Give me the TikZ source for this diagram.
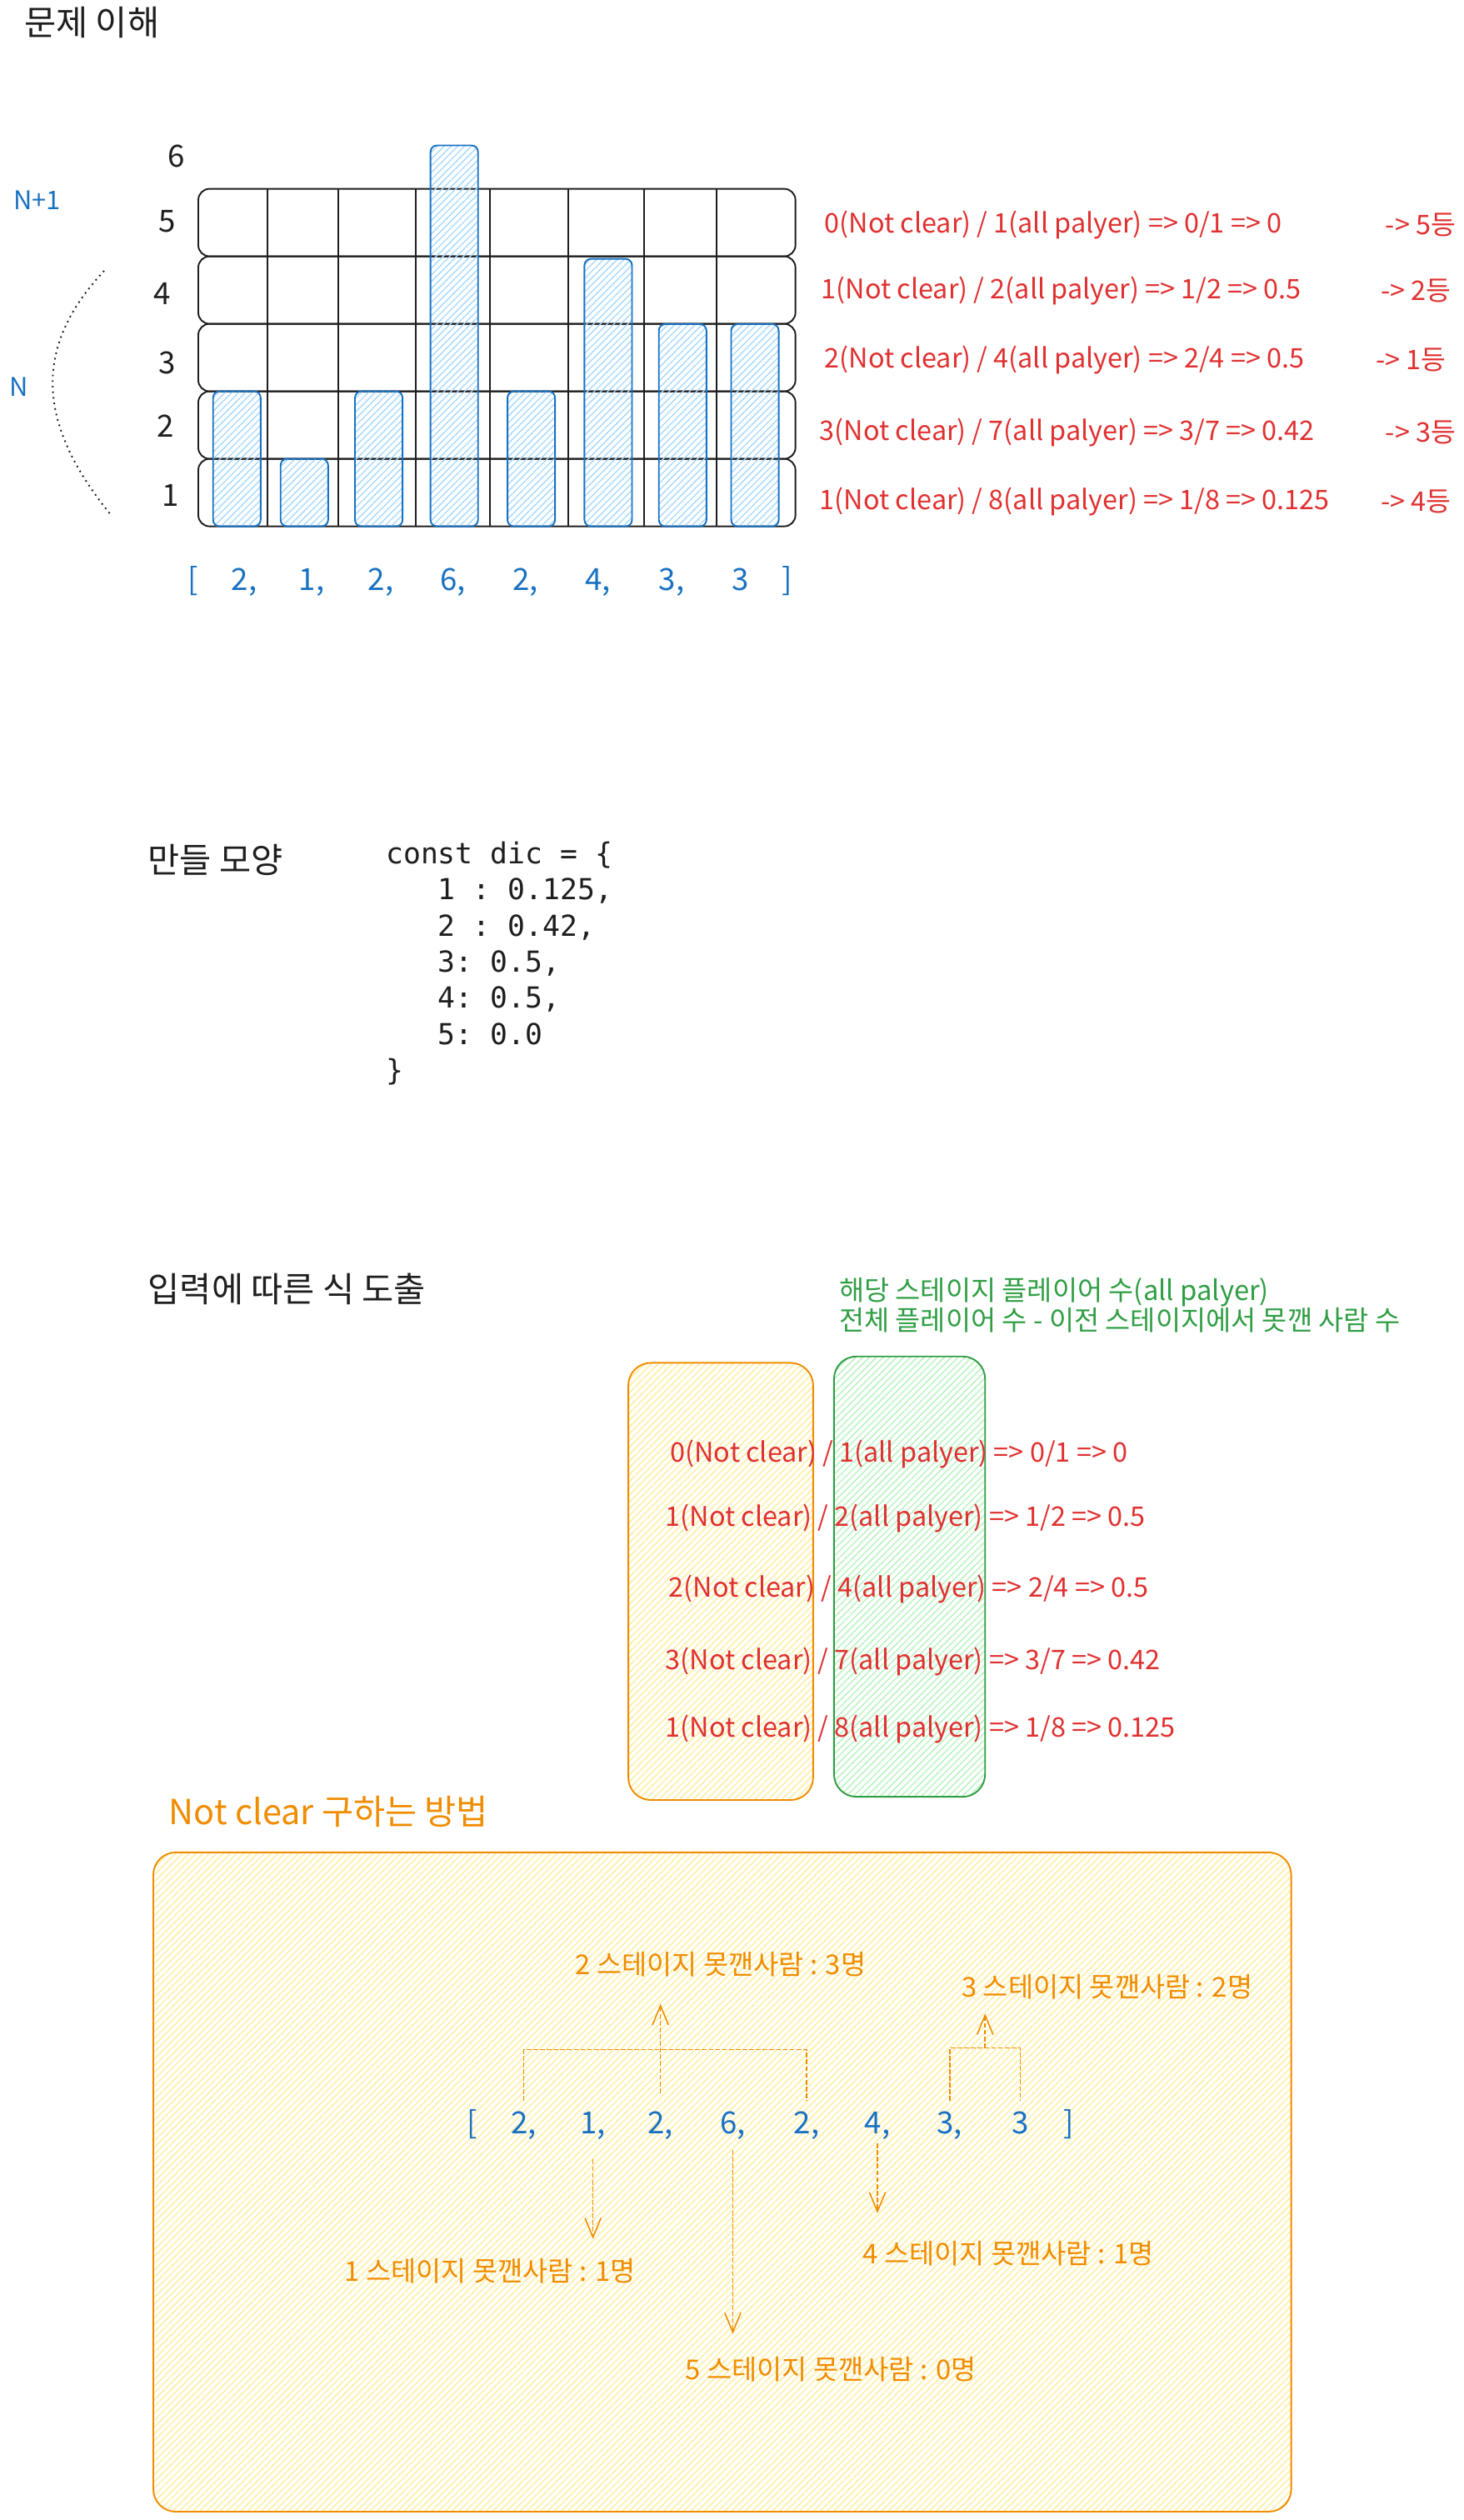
\documentclass[tikz,border=0pt]{standalone}
\usepackage{fontspec}
\setmainfont{Noto Sans CJK KR}
\setmonofont{DejaVu Sans Mono}
\usetikzlibrary{arrows.meta,patterns.meta,positioning}

\definecolor{inkblack}{HTML}{1E1E1E}
\definecolor{inkred}{HTML}{E03131}
\definecolor{inkblue}{HTML}{1971C2}
\definecolor{inkgreen}{HTML}{2F9E44}
\definecolor{inkorange}{HTML}{F08C00}
\definecolor{hatchblue}{HTML}{A5D8FF}
\definecolor{hatchgreen}{HTML}{B2F2BB}
\definecolor{hatchyellow}{HTML}{FFEC99}

\tikzset{
	heading/.style={anchor=west, inner sep=0pt, text=inkblack, font=\fontsize{21.5}{25}\selectfont},
	level/.style={inner sep=0pt, text=inkblack, font=\fontsize{19}{22}\selectfont},
	item/.style={inner sep=0pt, text height=14pt, text depth=3pt, text=inkblue, font=\fontsize{19}{22}\selectfont},
	ratio/.style={anchor=west, inner sep=0pt, text=inkred, font=\fontsize{16.8}{20}\selectfont},
	stagelabel/.style={inner sep=0pt, text=inkorange, font=\fontsize{17}{20}\selectfont},
	gridrow/.style={draw=inkblack, line width=1pt, rounded corners=7pt, minimum width=371.6pt, minimum height=42pt, inner sep=0pt},
	hatch/.style={line width=1pt, pattern={Lines[angle=45,distance=3pt,line width=0.7pt]}},
	bar/.style={hatch, draw=inkblue, pattern color=hatchblue, rounded corners=4pt},
	bracketline/.style={inkorange, line width=0.8pt, dash pattern=on 3pt off 1.2pt},
	stagearrow/.style={bracketline, -{Straight Barb[length=12pt,width=10pt]}}
}

\begin{document}
\begin{tikzpicture}[x=1pt, y=-1pt]
	\useasboundingbox (0,0) rectangle (911,1568);

	\node (understand) [heading] at (15,14) {문제 이해};

	\node (row5) [gridrow] at (309.2,138.5) {};
	\node (row4) [gridrow] at (309.2,180.5) {};
	\node (row3) [gridrow] at (309.2,222.5) {};
	\node (row2) [gridrow] at (309.2,264.5) {};
	\node (row1) [gridrow] at (309.2,306.5) {};
	\foreach \x in {166.3,210.4,258.6,305,353.5,400.8,445.8}
		\draw [inkblack, line width=1pt] (\x,117.5) -- (\x,327.5);
	\foreach \x/\t in {132.6/243.5,174.6/285.5,220.9/243.5,267.9/90.5,315.8/243.5,363.7/161.1,410/201.7,455/201.7}
		\draw [bar] (\x,\t) rectangle ({\x+29.6},327.5);

	\node (lvl6) [level] at (110,97) {6};
	\node (lvl5) [level] at (104,138) {5};
	\node (lvl4) [level] at (101,183) {4};
	\node (lvl3) [level] at (104,226) {3};
	\node (lvl2) [level] at (103,265) {2};
	\node (lvl1) [level] at (106,308) {1};

	\node (nplus) [item, font=\fontsize{16}{18}\selectfont] at (23,125) {N+1};
	\node (nlabel) [item, font=\fontsize{16}{18}\selectfont] at (11.5,241) {N};
	\draw [inkblack, line width=1pt, dash pattern=on 1pt off 2.5pt] (64.8,168.5) .. controls (21.4,215) and (21.4,262) .. (69.1,320.5);

	\node (lbrack) [item] at (120,362) {[};
	\node (val1) [item] at (152,362) {2,};
	\node (val2) [item] at (194,362) {1,};
	\node (val3) [item] at (237,362) {2,};
	\node (val4) [item] at (282,362) {6,};
	\node (val5) [item] at (327,362) {2,};
	\node (val6) [item] at (372,362) {4,};
	\node (val7) [item] at (418,362) {3,};
	\node (val8) [item] at (461,362) {3};
	\node (rbrack) [item] at (490,362) {]};

	\node (ratio5) [ratio] at (513,140) {0(Not clear) / 1(all palyer) => 0/1 => 0};
	\node (ratio4) [ratio] at (511,181) {1(Not clear) / 2(all palyer) => 1/2 => 0.5};
	\node (ratio3) [ratio] at (513,224) {2(Not clear) / 4(all palyer) => 2/4 => 0.5};
	\node (ratio2) [ratio] at (510,269) {3(Not clear) / 7(all palyer) => 3/7 => 0.42};
	\node (ratio1) [ratio] at (510,312) {1(Not clear) / 8(all palyer) => 1/8 => 0.125};
	\node (rank5) [ratio] at (862,140) {-> 5등};
	\node (rank4) [ratio] at (859,181) {-> 2등};
	\node (rank3) [ratio] at (856,224) {-> 1등};
	\node (rank2) [ratio] at (862,269) {-> 3등};
	\node (rank1) [ratio] at (859,312) {-> 4등};

	\node (shape) [heading] at (92,535) {만들 모양};
	\node (dic) [anchor=west, inner sep=0pt, align=left, text=inkblack, font=\ttfamily\fontsize{18}{22.5}\selectfont] at (240,599.5) {
		const dic = \{\\
		\phantom{000}1 : 0.125,\\
		\phantom{000}2 : 0.42,\\
		\phantom{000}3: 0.5,\\
		\phantom{000}4: 0.5,\\
		\phantom{000}5: 0.0\\
		\}
	};

	\node (derive) [heading] at (92,802) {입력에 따른 식 도출};
	\node (allplayer) [anchor=west, inner sep=0pt, align=left, text=inkgreen, font=\fontsize{17}{18.5}\selectfont] at (522,812) {
		해당 스테이지 플레이어 수(all palyer)\\
		전체 플레이어 수 - 이전 스테이지에서 못깬 사람 수
	};
	\draw [hatch, draw=inkorange, pattern color=hatchyellow, rounded corners=14pt] (391,848) rectangle (506,1120);
	\draw [hatch, draw=inkgreen, pattern color=hatchgreen, rounded corners=14pt] (519,844) rectangle (613,1118);
	\node (expr5) [ratio] at (417,905) {0(Not clear) / 1(all palyer) => 0/1 => 0};
	\node (expr4) [ratio] at (414,945) {1(Not clear) / 2(all palyer) => 1/2 => 0.5};
	\node (expr3) [ratio] at (416,989) {2(Not clear) / 4(all palyer) => 2/4 => 0.5};
	\node (expr2) [ratio] at (414,1034) {3(Not clear) / 7(all palyer) => 3/7 => 0.42};
	\node (expr1) [ratio] at (414,1076) {1(Not clear) / 8(all palyer) => 1/8 => 0.125};

	\node (howto) [heading, text=inkorange] at (105,1127) {Not clear 구하는 방법};
	\draw [hatch, draw=inkorange, pattern color=hatchyellow, rounded corners=14pt] (95.4,1152.6) rectangle (803.5,1562.8);

	\node (sl) [item] at (294,1322) {[};
	\node (s1) [item] at (326,1322) {2,};
	\node (s2) [item] at (369,1322) {1,};
	\node (s3) [item] at (411,1322) {2,};
	\node (s4) [item] at (456,1322) {6,};
	\node (s5) [item] at (502,1322) {2,};
	\node (s6) [item] at (546,1322) {4,};
	\node (s7) [item] at (591,1322) {3,};
	\node (s8) [item] at (635,1322) {3};
	\node (sr) [item] at (665,1322) {]};

	\node (fail2) [stagelabel] at (448.5,1222) {2 스테이지 못깬사람 : 3명};
	\node (fail3) [stagelabel] at (689,1236) {3 스테이지 못깬사람 : 2명};
	\node (fail1) [stagelabel] at (305,1413) {1 스테이지 못깬사람 : 1명};
	\node (fail5) [stagelabel] at (517,1474) {5 스테이지 못깬사람 : 0명};
	\node (fail4) [stagelabel] at (627.5,1402) {4 스테이지 못깬사람 : 1명};

	\draw [bracketline] ([yshift=6pt]s1.north) -- ++(0,-32) -| ([yshift=6pt]s5.north);
	\draw [stagearrow, shorten >=17pt] ([yshift=11pt]s3.north) -- (s3.north |- fail2.south);
	\draw [bracketline] ([yshift=6pt]s7.north) -- ++(0,-33) coordinate (join3) -| ([yshift=6pt]s8.north);
	\path (join3) -- coordinate [midway] (mid3) (join3 -| s8.north);
	\draw [stagearrow, shorten >=9pt] (mid3) -- (mid3 |- fail3.south);
	\draw [stagearrow, shorten <=13pt, shorten >=12pt] (s2.south) -- (s2.south |- fail1.north);
	\draw [stagearrow, shorten <=7pt, shorten >=14pt] (s4.south) -- (s4.south |- fail5.north);
	\draw [stagearrow, shorten <=3pt, shorten >=17pt] (s6.south) -- (s6.south |- fail4.north);
\end{tikzpicture}
\end{document}
